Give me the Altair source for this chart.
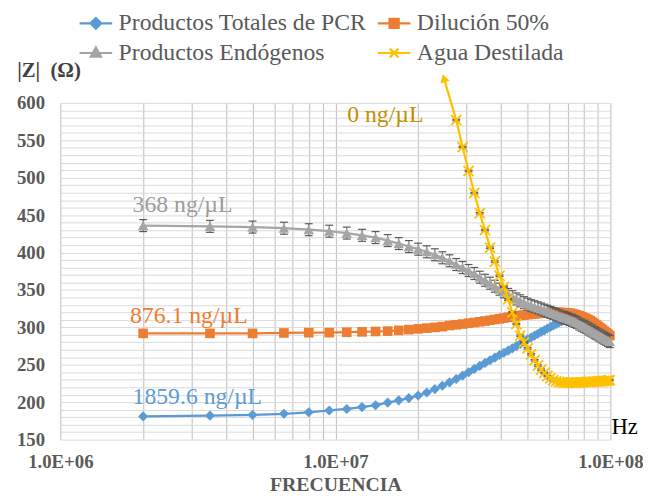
import altair as alt
import pandas as pd

# ---------------- data ----------------
FREQ_MHZ = [2, 3.5, 5, 6.5, 8, 9.5, 11, 12.5, 14, 15.5,
            17, 18.5, 20, 21.5, 23, 24.5, 26, 27.5, 29, 30.5,
            32, 33.5, 35, 36.5, 38, 39.5, 41, 42.5, 44, 45.5,
            47, 48.5, 50, 51.5, 53, 54.5, 56, 57.5, 59, 60.5,
            62, 63.5, 65, 66.5, 68, 69.5, 71, 72.5, 74, 75.5,
            77, 78.5, 80, 81.5, 83, 84.5, 86, 87.5, 89, 90.5,
            92, 93.5, 95, 96.5, 98, 99.5]

PCR = [181, 182, 183, 184.5, 186.5, 189, 191, 193.5, 196, 199.5,
       202.5, 205.5, 209, 213, 217.5, 222, 226.5, 231, 235.5, 240,
       244.5, 248.5, 252.5, 256, 259.5, 263, 266, 269, 272, 275,
       278, 281, 284, 286.5, 289, 291.5, 294, 296, 298.5, 300.5,
       302.5, 304.5, 306.5, 308, 309.5, 310.5, 311.5, 312, 312.5, 312.5,
       312, 311.5, 310.5, 309.5, 308, 306.5, 304.5, 302.5, 300.5, 298.5,
       296.5, 294.5, 292.5, 290.5, 288.5, 286.5]

DIL = [292, 292, 292, 292.5, 293, 293, 293.5, 294, 294.5, 295,
       296, 297, 298, 299, 300, 301, 302.5, 303.5, 304.5, 305.5,
       306.5, 307.5, 308.5, 309.5, 310.5, 311.5, 312.5, 313.5, 314.5, 315,
       316, 316.5, 317, 317.5, 318, 318.5, 319, 319.5, 319.5, 320,
       320, 320, 320, 320, 319.5, 319.5, 319, 318.5, 317.5, 316.5,
       315.5, 314.5, 313, 312, 310.5, 309, 307, 305, 303, 301,
       299, 297, 295, 293, 291, 289]

ENDO = [436, 435, 434, 432.5, 430.5, 428.5, 426, 423, 420, 416,
        412, 408, 404.5, 401, 397, 393, 389, 384, 380, 376,
        372, 367, 363, 359, 355, 351, 347.5, 344, 341, 338,
        335.5, 333, 331, 329, 327.5, 326, 324.5, 323, 321.5, 320,
        318.5, 317, 315.5, 314, 313, 312, 310.5, 309.5, 308, 306.5,
        304.5, 303, 301.5, 300, 298, 296.5, 295, 293, 291.5, 290,
        288.5, 287, 285.5, 284, 282.5, 281]
ENDO_ERR = 8

AGUA_START = 17          # Agua Destilada is on scale from 27.5 MHz on
AGUA = [577, 541, 509, 479.5, 452.5, 430, 406.5, 388, 369, 354,
        337.5, 320, 304.5, 289, 280, 272, 264, 256, 249, 243.5,
        239, 235, 232, 229.5, 228, 227, 226.5, 226, 226, 226,
        226, 226, 226, 226.5, 226.5, 226.5, 227, 227, 227, 227.5,
        227.5, 227.5, 228, 228, 228, 228.5, 228.5, 229, 229.5]
AGUA_ERR = 1

SERIES = ["Productos Totales de PCR", "Dilución 50%",
          "Productos Endógenos", "Agua Destilada"]
COLORS = ["#5B9BD5", "#ED7D31", "#A5A5A5", "#FFC000"]

# legend is filled column by column: this order gives the reference's rows
LEGEND_ORDER = [0, 2, 1, 3]

# annotations (data coordinates)
ANN_TEXT = ["368 ng/µL", "876.1 ng/µL", "1859.6 ng/µL", "0 ng/µL"]
ANN_F = [1.831e6, 1.792e6, 1.831e6, 1.104e7]
ANN_Z = [454.2, 305.8, 197.6, 575]
ANN_COLOR = ["#9C9C9C", "#ED7D31", "#5B9BD5", "#BF9000"]

ARROW_FROM = (27.5e6, 577)
ARROW_TO = (24.81e6, 633)

HZ_F, HZ_Z = 1.0083e8, 157

X_TICKS = [m * 10 ** e for e in (6, 7) for m in range(1, 10)] + [10 ** 8]
Y_TICKS = list(range(150, 601, 10))

# ---------------- tables ----------------
rows = []
for s, vals, err, start in [(SERIES[0], PCR, 0, 0), (SERIES[1], DIL, 0, 0),
                            (SERIES[2], ENDO, ENDO_ERR, 0),
                            (SERIES[3], AGUA, AGUA_ERR, AGUA_START)]:
    for f, v in zip(FREQ_MHZ[start:], vals):
        rows.append({"series": s, "f": f * 1e6, "z": v,
                     "lo": v - err, "hi": v + err, "err": err})
df = pd.DataFrame(rows)

ann = pd.DataFrame({"t": ANN_TEXT, "f": ANN_F, "z": ANN_Z, "c": ANN_COLOR})
arrow = pd.DataFrame({"f": [ARROW_FROM[0]], "z": [ARROW_FROM[1]],
                      "f2": [ARROW_TO[0]], "z2": [ARROW_TO[1]]})
hz = pd.DataFrame({"t": ["Hz"], "f": [HZ_F], "z": [HZ_Z]})

# ---------------- scales / axes ----------------
FONT = "Liberation Serif"
xscale = alt.Scale(type="log", domain=[1e6, 1e8], nice=False)
yscale = alt.Scale(domain=[150, 600], nice=False, zero=False)

xaxis = alt.Axis(
    title="FRECUENCIA", values=X_TICKS,
    labelExpr="(datum.value == 1e6 || datum.value == 1e7 || datum.value == 1e8) ? ('1.0E+0' + round(log(datum.value) / LN10)) : ''",
    grid=True, gridColor="#BDBDBD", gridWidth=1, domain=False, ticks=False, tickSize=0,
    labelFont=FONT, labelFontWeight="bold", labelFontSize=19, labelColor="#595959",
    labelPadding=13, labelFlush=False, labelOverlap=False,
    titleFont=FONT, titleFontWeight="bold", titleFontSize=20, titleColor="#595959",
    titleY=52, titleBaseline="alphabetic")

yaxis = alt.Axis(
    title="|Z|\u00a0 (Ω)", values=Y_TICKS,
    labelExpr="datum.value % 50 == 0 ? datum.label : ''",
    grid=True, gridColor="#D9D9D9", gridWidth=1, domain=False, ticks=False, tickSize=0,
    labelFont=FONT, labelFontWeight="bold", labelFontSize=19, labelColor="#595959",
    labelPadding=16, labelFlush=False, labelOverlap=False,
    titleFont=FONT, titleFontWeight="bold", titleFontSize=21, titleColor="#404040",
    titleAngle=0, titleX=-12, titleY=-33, titleAlign="center", titleBaseline="middle")


def X(field="f"):
    return alt.X(f"{field}:Q", scale=xscale, axis=xaxis)


def Y(field="z"):
    return alt.Y(f"{field}:Q", scale=yscale, axis=yaxis)


base = alt.Chart(df)
SHAPES = ["diamond", "square", "triangle-up", "M-1,-1L1,1M-1,1L1,-1"]
SIZES = [105, 95, 115, 105]

layers = []
for i, s in enumerate(SERIES):
    sel = base.transform_filter(alt.datum.series == s)
    layers.append(sel.mark_line(color=COLORS[i], strokeWidth=2.25).encode(x=X(), y=Y()))
    if s in (SERIES[2], SERIES[3]):
        eb = sel.transform_filter(alt.datum.err > 0)
        layers.append(eb.mark_rule(color="#595959", strokeWidth=1).encode(
            x=X(), y=Y("lo"), y2="hi:Q"))
        layers.append(eb.mark_tick(orient="horizontal", color="#595959", size=8,
                                   thickness=1.2, opacity=1).encode(x=X(), y=Y("lo")))
        layers.append(eb.mark_tick(orient="horizontal", color="#595959", size=8,
                                   thickness=1.2, opacity=1).encode(x=X(), y=Y("hi")))
    if i == 3:
        layers.append(sel.mark_point(shape=SHAPES[i], filled=False, size=SIZES[i],
                                     color=COLORS[i], strokeWidth=1.8, opacity=1)
                      .encode(x=X(), y=Y()))
    else:
        layers.append(sel.mark_point(shape=SHAPES[i], filled=True, size=SIZES[i],
                                     color=COLORS[i], opacity=1)
                      .encode(x=X(), y=Y()))

# arrow on the Agua Destilada series
layers.append(alt.Chart(arrow).mark_rule(color=COLORS[3], strokeWidth=2.25).encode(
    x=X(), y=Y(), x2="f2:Q", y2="z2:Q"))
layers.append(alt.Chart(arrow).mark_point(shape="triangle-up", angle=344, filled=True,
                                          size=95, color=COLORS[3], opacity=1).encode(
    x=X("f2"), y=Y("z2")))

# annotations
layers.append(alt.Chart(ann).mark_text(align="left", baseline="alphabetic", font=FONT,
                                       fontSize=24).encode(
    x=X(), y=Y(), text="t:N", color=alt.Color("c:N", scale=None)))
layers.append(alt.Chart(hz).mark_text(align="left", baseline="alphabetic", font=FONT,
                                      fontSize=23, color="#000000").encode(
    x=X(), y=Y(), text="t:N"))

# legend (entries come from the scale domains)
LEG_PATHS = [
    "M-1,0L1,0M0,-0.33L0.33,0L0,0.33L-0.33,0Z",
    "M-1,0L1,0M-0.28,-0.28L0.28,-0.28L0.28,0.28L-0.28,0.28Z",
    "M-1,0L1,0M0,-0.34L0.31,0.22L-0.31,0.22Z",
    "M-1,0L1,0M-0.27,-0.27L0.27,0.27M-0.27,0.27L0.27,-0.27",
]
leg_domain = [SERIES[k] for k in LEGEND_ORDER]
leg_colors = [COLORS[k] for k in LEGEND_ORDER]
leg_paths = [LEG_PATHS[k] for k in LEGEND_ORDER]

legend = alt.Legend(title=None, orient="none", legendX=18, legendY=-98.5, columns=2,
                    symbolSize=1089, symbolStrokeWidth=2.25, symbolOpacity=1,
                    labelFont=FONT, labelFontSize=24, labelColor="#595959",
                    labelLimit=600, labelOffset=5, columnPadding=7, rowPadding=0,
                    padding=0)
cscale = alt.Scale(domain=leg_domain, range=leg_colors)
layers.append(base.transform_filter("false").mark_point(filled=True, opacity=1).encode(
    x=X(), y=Y(),
    fill=alt.Fill("series:N", scale=cscale, legend=legend),
    stroke=alt.Stroke("series:N", scale=cscale, legend=legend),
    shape=alt.Shape("series:N", scale=alt.Scale(domain=leg_domain, range=leg_paths),
                    legend=legend)))

chart = alt.layer(*layers).properties(
    width=557, height=341,
    autosize=alt.AutoSizeParams(type="none"),
    padding={"left": 53, "top": 93, "right": 33, "bottom": 52},
    background="white",
).configure_view(strokeWidth=0)

chart.save("out.html", embed_options={"renderer": "svg", "actions": False})
